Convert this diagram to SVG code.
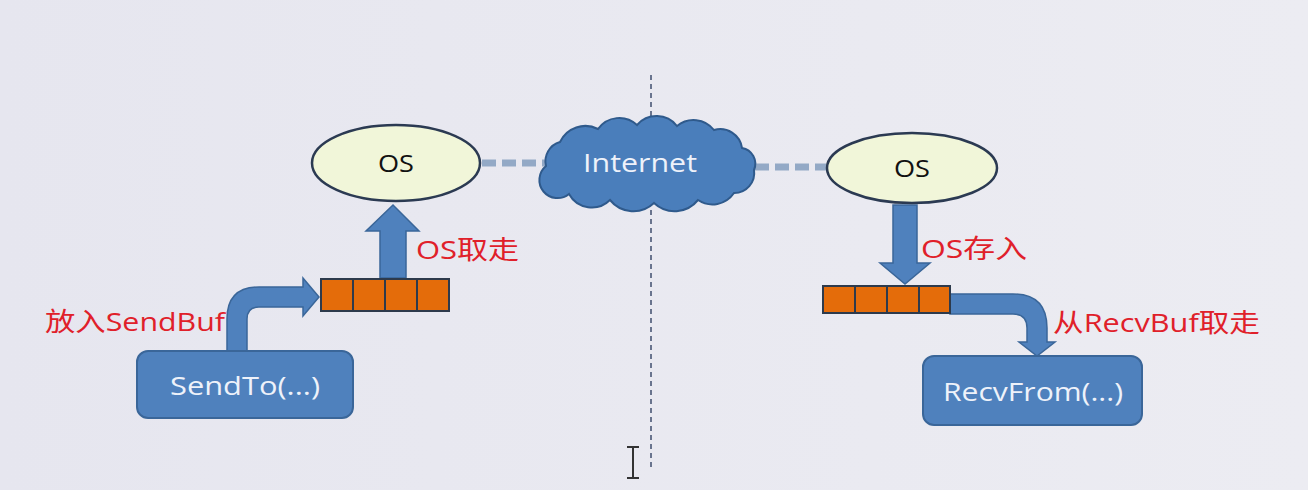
<svg xmlns="http://www.w3.org/2000/svg" width="1308" height="490" viewBox="0 0 1308 490">
<defs>
<linearGradient id="bg" x1="0" y1="0" x2="1" y2="0">
<stop offset="0" stop-color="#e6e6ef"/>
<stop offset="1" stop-color="#ececf2"/>
</linearGradient>
</defs>
<style>
.os{fill:#f1f6d9;stroke:#2b3a52;stroke-width:2.5}
.box{fill:#4f81bd;stroke:#3a6699;stroke-width:2}
.arrow{fill:#4f81bd;stroke:#3a6699;stroke-width:1.5}
.cell{fill:#e46c0a;stroke:#2d3a4c;stroke-width:2}
.link{fill:none;stroke:#93a9c6;stroke-width:7;stroke-dasharray:14 6}
.divider{fill:none;stroke:#3f4e6e;stroke-width:1.5;stroke-dasharray:5 4}
.dark{font-family:"Open Sans","Noto Sans",sans-serif;font-size:24px;fill:#111;text-anchor:middle}
.white{font-family:"Open Sans","Noto Sans",sans-serif;font-size:26px;fill:#eef2fa;text-anchor:middle}
.red{font-family:"Open Sans","Noto Sans CJK SC",sans-serif;font-size:26px;fill:#e0202a}
</style>
<rect width="1308" height="490" fill="url(#bg)"/>

<g id="connectors">
<line class="divider" x1="651" y1="75" x2="651" y2="470"/>
<line class="link" x1="482" y1="163" x2="545" y2="163"/>
<line class="link" x1="755" y1="167" x2="826" y2="167"/>
<path class="arrow" d="M380,278 L380,231 L366,231 L393,205 L419,231 L406,231 L406,278 Z"/>
<path class="arrow" d="M227,352 L227,319 Q227,287 259,287 L303,287 L303,278 L319,297 L303,316 L303,307 L259,307 Q247,307 247,319 L247,352 Z"/>
<path class="arrow" d="M893,205 L893,263 L880,263 L905,284 L930,263 L917,263 L917,205 Z"/>
<path class="arrow" d="M950,294 L1013,294 Q1047,294 1047,328 L1047,342 L1055,342 L1037,356 L1019,342 L1027,342 L1027,328 Q1027,314 1013,314 L950,314 Z"/>
</g>

<g id="os-left">
<ellipse class="os" cx="396" cy="163" rx="84" ry="38"/>
<text class="dark" x="396" y="172" textLength="36" lengthAdjust="spacingAndGlyphs">OS</text>
</g>

<g id="internet">
<path d="M546,166 A20,20 0 0 1 560,142 A28,28 0 0 1 598,129 A26,26 0 0 1 637,125 A26,26 0 0 1 677,126 A26,26 0 0 1 714,130 A22,22 0 0 1 742,148 A16,16 0 0 1 754,170 A20,20 0 0 1 734,193 A26,26 0 0 1 698,200 A30,30 0 0 1 654,203 A30,30 0 0 1 610,200 A26,26 0 0 1 569,194 A16,16 0 0 1 546,166 Z" fill="#4a7ebb" stroke="#2f5a8c" stroke-width="2"/>
<text class="white" x="640" y="172" font-size="27" textLength="114" lengthAdjust="spacingAndGlyphs">Internet</text>
</g>

<g id="os-right">
<ellipse class="os" cx="912" cy="168" rx="85" ry="35"/>
<text class="dark" x="912" y="177" textLength="36" lengthAdjust="spacingAndGlyphs">OS</text>
</g>

<g id="sendbuf">
<rect class="cell" x="321" y="279" width="32" height="32"/>
<rect class="cell" x="353" y="279" width="32" height="32"/>
<rect class="cell" x="385" y="279" width="32" height="32"/>
<rect class="cell" x="417" y="279" width="32" height="32"/>
</g>

<g id="recvbuf">
<rect class="cell" x="823" y="286" width="32" height="27"/>
<rect class="cell" x="855" y="286" width="32" height="27"/>
<rect class="cell" x="887" y="286" width="32" height="27"/>
<rect class="cell" x="919" y="286" width="31" height="27"/>
</g>

<g id="sendto">
<rect class="box" x="137" y="351" width="216" height="67" rx="11"/>
<text class="white" x="245" y="395" textLength="150" lengthAdjust="spacingAndGlyphs">SendTo(...)</text>
</g>

<g id="recvfrom">
<rect class="box" x="923" y="356" width="219" height="69" rx="11"/>
<text class="white" x="1033" y="401" textLength="180" lengthAdjust="spacingAndGlyphs">RecvFrom(...)</text>
</g>

<g id="labels">
<text class="red" x="45" y="331" textLength="180" lengthAdjust="spacingAndGlyphs">放入SendBuf</text>
<text class="red" x="416" y="259" textLength="103" lengthAdjust="spacingAndGlyphs">OS取走</text>
<text class="red" x="921" y="258" textLength="106" lengthAdjust="spacingAndGlyphs">OS存入</text>
<text class="red" x="1053" y="332" textLength="207" lengthAdjust="spacingAndGlyphs">从RecvBuf取走</text>
</g>

<path d="M627,447 L639,447 M633,447 L633,478 M627,478 L639,478" fill="none" stroke="#333" stroke-width="2"/>
</svg>
